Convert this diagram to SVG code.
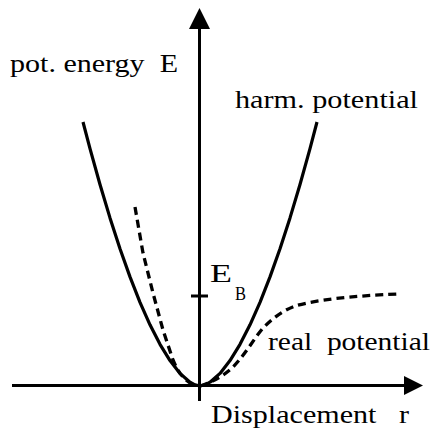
<svg xmlns="http://www.w3.org/2000/svg" width="435" height="430" viewBox="0 0 435 430">
<style>
.ax{stroke:#000;stroke-width:3;fill:none}
.cv{stroke:#000;stroke-width:3.2;fill:none;stroke-linejoin:round;stroke-linecap:butt}
.dash{stroke:#000;stroke-width:3.3;fill:none;stroke-dasharray:8 5}
.t{font-family:'Liberation Serif','Times New Roman',serif;font-size:25px;fill:#000}
</style>
<rect width="435" height="430" fill="#fff"/>
<g id="axes">
<line class="ax" x1="199.5" y1="27" x2="199.5" y2="401"/>
<polygon points="199.5,8 189,29 210,29" fill="#000"/>
<line class="ax" x1="12" y1="385.5" x2="405" y2="385.5"/>
<polygon points="423,385.5 404,376 404,395" fill="#000"/>
<line class="ax" x1="191" y1="296" x2="208" y2="296"/>
</g>
<g id="harmonic">
<polyline class="cv" points="83,122 90,148.6 100,184.5 110,217.9 120,248.7 130,276.9 140,302.3 150,324.8 160,344.3 170,360.6 180,373.4 190,382.2 195,384.8 200,386 205,384.8 210,382.2 220,373.4 230,360.6 240,344.3 250,324.8 260,302.3 270,276.9 280,248.7 290,217.9 300,184.5 310,148.6 317,122"/>
</g>
<g id="real">
<path class="dash" d="M135,207 L143,253 L153,293 L163,330 L173,360 C178,372 184,380 192,384 L200,386"/>
<path class="dash" d="M200,386 C210,383 222,377 232,368 C245,355 253,340 263,328 C273,318 282,311 295,306 C315,300 350,296 398,294"/>
</g>
<g id="labels">
<text class="t" x="10" y="72" textLength="168" lengthAdjust="spacingAndGlyphs" xml:space="preserve">pot. energy  E</text>
<text class="t" x="235" y="108" textLength="183" lengthAdjust="spacingAndGlyphs">harm. potential</text>
<text class="t" x="268" y="350" textLength="162" lengthAdjust="spacingAndGlyphs" xml:space="preserve">real  potential</text>
<text class="t" x="211" y="423" textLength="198" lengthAdjust="spacingAndGlyphs" xml:space="preserve">Displacement   r</text>
<text class="t" x="210" y="282" textLength="22" lengthAdjust="spacingAndGlyphs">E</text>
<text class="t" x="235" y="300" style="font-size:18px" textLength="11" lengthAdjust="spacingAndGlyphs">B</text>
</g>
</svg>
